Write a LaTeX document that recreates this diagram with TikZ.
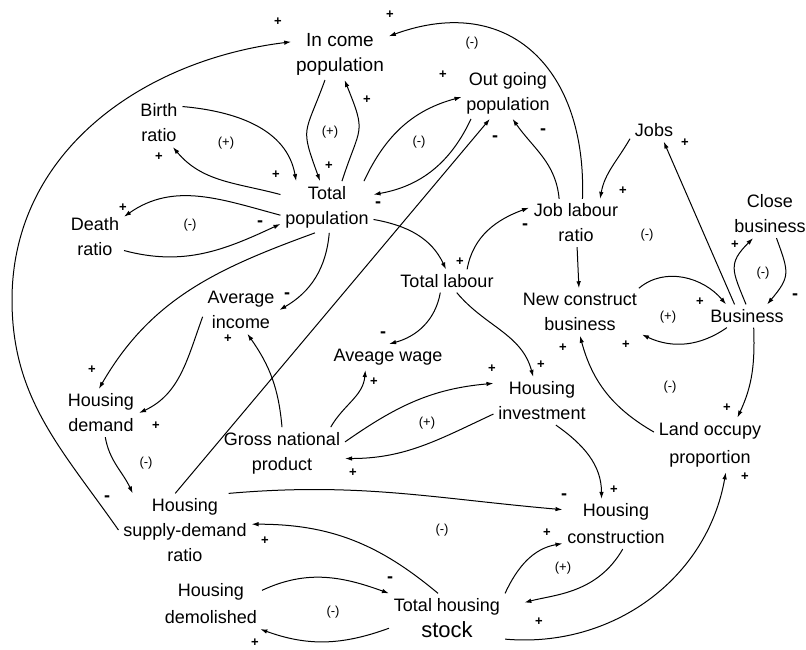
\documentclass[tikz,border=0pt]{standalone}
\usepackage{fontspec}
\setmainfont{Liberation Sans}
\usepackage{tikz}
\usetikzlibrary{arrows.meta}
\tikzset{var/.style = {align=center, inner sep=2pt, outer sep=3pt,
                       font=\fontsize{18}{25}\selectfont}}
\tikzset{link/.style = {line width=1pt, -{Latex[length=7pt,width=4.5pt]}}}
\tikzset{plus/.style = {inner sep=0, font=\fontsize{13}{13}\selectfont\bfseries}}
\tikzset{minus/.style = {inner sep=0, font=\fontsize{18}{18}\selectfont\bfseries}}
\tikzset{loopsgn/.style = {inner sep=0, font=\fontsize{13}{13}\selectfont}}

\begin{document}
\begin{tikzpicture}[x=1pt, y=1pt]
  \useasboundingbox (0,0) rectangle (806,-649);

  % variables
  \node [var, font=\fontsize{19}{25}\selectfont] (incpop) at (340,-54) {In come\\population};
  \node [var] (outpop) at (508,-93) {Out going\\population};
  \node [var] (birth) at (159,-123) {Birth\\ratio};
  \node [var] (totpop) at (327,-207) {Total\\population};
  \node [var] (death) at (95,-237) {Death\\ratio};
  \node [var] (jobs) at (654,-130) {Jobs};
  \node [var] (jlr) at (576,-223) {Job labour\\ratio};
  \node [var] (close) at (770,-214) {Close\\business};
  \node [var] (totlab) at (447,-281) {Total labour};
  \node [var] (avinc) at (241,-310) {Average\\income};
  \node [var] (ncb) at (580,-312) {New construct\\business};
  \node [var] (business) at (747,-316) {Business};
  \node [var] (avwage) at (388,-357) {Aveage wage};
  \node [var] (hdem) at (101,-413) {Housing\\demand};
  \node [var] (hinv) at (542,-401) {Housing\\investment};
  \node [var] (land) at (710,-445) {Land occupy\\[3pt]proportion};
  \node [var] (gnp) at (282,-453) {Gross national\\product};
  \node [var] (hsdr) at (185,-530) {Housing\\supply-demand\\ratio};
  \node [var] (hcon) at (616,-524) {Housing\\[2pt]construction};
  \node [var] (hdemo) at (211,-604) {Housing\\[2pt]demolished};
  \node [var] (ths) at (447,-618) {Total housing\\[1pt]{\fontsize{22}{24}\selectfont stock}};
  \coordinate (farleft) at (12,-300);

  % links
  \draw [link] (hsdr.west) to[out=125,in=-90] (farleft) to[out=90,in=187] (incpop.166);
  \draw [link] (incpop.240) to[out=250,in=110,looseness=1.5] (totpop.105);
  \draw [link] (totpop.60) to[out=72,in=-68,looseness=1.5] (incpop.280);
  \draw [link] (birth.35) to[out=-5,in=100] (totpop.140);
  \draw [link] (totpop.165) to[out=165,in=-50] (birth.300);
  \draw [link] (totpop.190) to[out=165,in=35] (death.35);
  \draw [link] (death.335) to[out=-15,in=205] (totpop.200);
  \draw [link] (totpop.245) to[out=200,in=60] (hdem.95);
  \draw [link] (totpop.275) to[out=-95,in=30] (avinc.east);
  \draw [link] (avinc.190) to[out=250,in=25] (hdem.east);
  \draw [link] (hdem.280) to[out=-80,in=115] (hsdr.145);
  \draw [link] (hsdr.105) -- (outpop.235);
  \draw [link] (totpop.35) to[out=65,in=195] (outpop.185);
  \draw [link] (outpop.215) to[out=245,in=10] (totpop.15);
  \draw [link] (totpop.345) to[out=-10,in=115] (totlab.95);
  \draw [link] (totlab.30) to[out=80,in=200] (jlr.162);
  \draw [link] (jlr.125) to[out=95,in=-55] (outpop.280);
  \draw [link] (jlr.75) to[out=88,in=20,looseness=1.3] (incpop.20);
  \draw [link] (jobs.200) to[out=240,in=80] (jlr.45);
  \draw [link] (business.137) -- (jobs.310);
  \draw [link] (jlr) -- (ncb);
  \draw [link] (ncb.22) to[out=40,in=130] (business.151);
  \draw [link] (business.210) to[out=215,in=-25] (ncb.-20);
  \draw [link] (business.95) to[out=112,in=225,looseness=1.4] (close.235);
  \draw [link] (close.285) to[out=-70,in=50,looseness=1.4] (business.30);
  \draw [link] (business.300) to[out=-88,in=65] (land.45);
  \draw [link] (land.167) to[out=150,in=-75] (ncb.south);
  \draw [link] (totlab.240) to[out=-100,in=15] (avwage.85);
  \draw [link] (totlab.-50) to[out=-50,in=105] (hinv.110);
  \draw [link] (gnp.north) to[out=95,in=-55] (avinc.285);
  \draw [link] (gnp.28) to[out=60,in=-95] (avwage.210);
  \draw [link] (gnp.10) to[out=35,in=185] (hinv.160);
  \draw [link] (hinv.195) to[out=205,in=0] (gnp.355);
  \draw [link] (hinv.300) to[out=-35,in=90] (hcon.120);
  \draw [link] (hsdr.40) to[out=5,in=175] (hcon.165);
  \draw [link] (ths.110) to[out=140,in=0] (hsdr.5);
  \draw [link] (hdemo.15) to[out=25,in=160] (ths.157);
  \draw [link] (ths.190) to[out=200,in=-20] (hdemo.-27);
  \draw [link] (ths.north east) to[out=65,in=190] (hcon.200);
  \draw [link, shorten >=20pt] (hcon.285) to[out=240,in=15] (ths.10);
  \draw [link] (ths.340) to[out=-5,in=-100] (land.300);

  % polarities
  \foreach \x/\y [count=\i] in {278/22, 390/15, 329/166, 367/100, 276/175, 159/157,
      123/208, 92/370, 156/426, 443/75, 460/262, 623/191, 685/143, 700/302,
      626/345, 735/245, 727/408, 563/348, 541/365, 228/339, 374/382, 492/369,
      353/473, 614/490, 265/541, 255/643, 547/533, 539/622, 745/477}
    \node [plus] (pl\i) at (\x,-\y) {+};
  \foreach \x/\y [count=\i] in {260/224, 287/296, 107/499, 495/139, 378/205,
      525/227, 543/132, 795/297, 383/335, 564/497, 390/580}
    \node [minus] (mn\i) at (\x,-\y) {-};
  \foreach \x/\y/\t [count=\i] in {226/143/+, 330/132/+, 190/225/-, 419/142/-,
      472/43/-, 647/235/-, 668/317/+, 763/273/-, 670/387/-, 146/463/-,
      427/423/+, 442/530/-, 563/568/+, 333/612/-}
    \node [loopsgn] (lp\i) at (\x,-\y) {(\t)};
\end{tikzpicture}
\end{document}
